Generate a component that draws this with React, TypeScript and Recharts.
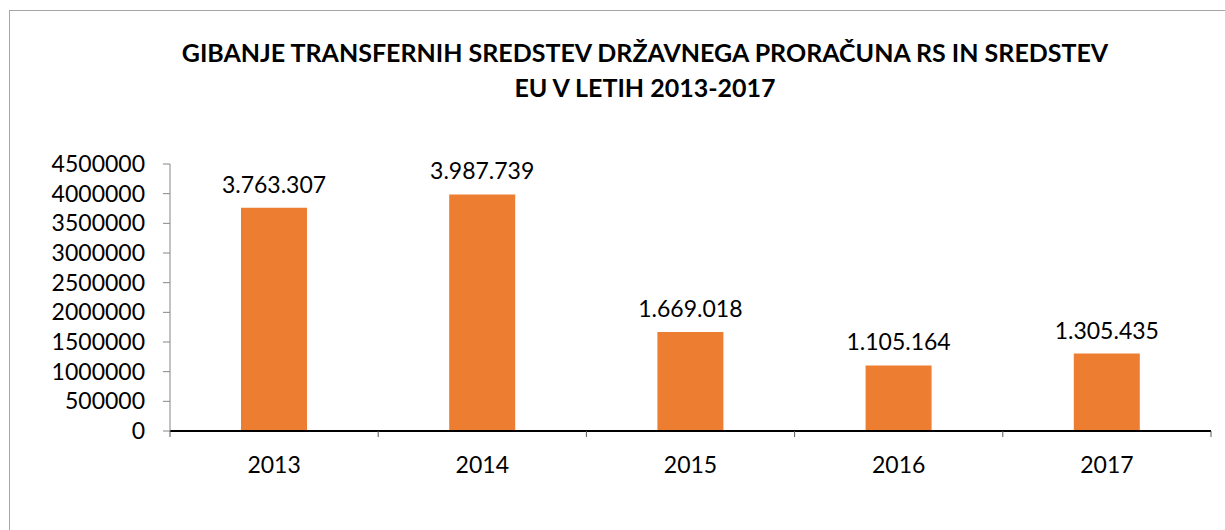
import { Bar, BarChart, LabelList, XAxis, YAxis } from 'recharts';

// Transfer funds per year
const years = ['2013', '2014', '2015', '2016', '2017'];
const amounts = [3763307, 3987739, 1669018, 1105164, 1305435];
const yTicks = [0, 500000, 1000000, 1500000, 2000000, 2500000, 3000000, 3500000, 4000000, 4500000];

const data = years.map((year, i) => ({ year, value: amounts[i] }));

const font = 'Lato, "Open Sans", sans-serif';
const TICK_MARGIN = 26;

const fmt = (v: any) => String(v).replace(/\B(?=(\d{3})+(?!\d))/g, '.');

// year label + small tick marks on category boundaries
const YearTick = (props: any) => {
  const { x, y, payload, index, visibleTicksCount } = props;
  const half = payload.offset || 0;
  const axisY = y - TICK_MARGIN;
  const last = index === visibleTicksCount - 1;
  return (
    <g>
      <line x1={x - half} x2={x - half} y1={axisY} y2={axisY + 6} stroke="#595959" />
      {last && <line x1={x + half} x2={x + half} y1={axisY} y2={axisY + 6} stroke="#595959" />}
      <text x={x} y={y} dy="0.71em" textAnchor="middle" fill="#000" fontSize={23} fontFamily={font}>
        {payload.value}
      </text>
    </g>
  );
};

export default function App() {
  return (
    <div style={{ position: 'absolute', left: 0, top: 0, width: 1225, height: 530, background: '#fff', fontFamily: font }}>
      <div
        style={{
          position: 'absolute',
          left: 9,
          top: 10,
          width: 1230,
          height: 540,
          borderLeft: '1px solid #a6a6a6',
          borderTop: '1px solid #a6a6a6',
        }}
      />
      <div
        style={{
          position: 'absolute',
          left: 0,
          top: 35,
          width: 1290,
          textAlign: 'center',
          fontWeight: 700,
          fontSize: 25,
          lineHeight: '35px',
          color: '#000',
        }}
      >
        GIBANJE TRANSFERNIH SREDSTEV DRŽAVNEGA PRORAČUNA RS IN SREDSTEV
        <br />
        EU V LETIH 2013-2017
      </div>
      <div style={{ position: 'absolute', left: 0, top: 0 }}>
        <BarChart width={1225} height={530} data={data} margin={{ top: 164, right: 14, bottom: 39, left: 0 }}>
          <XAxis
            dataKey="year"
            height={60}
            tickLine={false}
            tickSize={0}
            axisLine={{ stroke: '#000', strokeWidth: 2 }}
            tick={<YearTick />}
            tickMargin={TICK_MARGIN}
            interval={0}
          />
          <YAxis
            domain={[0, 4500000]}
            ticks={yTicks}
            width={170}
            interval={0}
            tickSize={7}
            tickMargin={18}
            tickLine={{ stroke: '#868686' }}
            axisLine={{ stroke: '#868686' }}
            tick={{ fill: '#000', fontSize: 23, fontFamily: font }}
          />
          <Bar dataKey="value" fill="#ed7d31" barSize={66} isAnimationActive={false}>
            <LabelList
              dataKey="value"
              position="top"
              offset={15}
              formatter={fmt}
              style={{ fill: '#000', fontSize: 23, fontFamily: font }}
            />
          </Bar>
        </BarChart>
      </div>
    </div>
  );
}
